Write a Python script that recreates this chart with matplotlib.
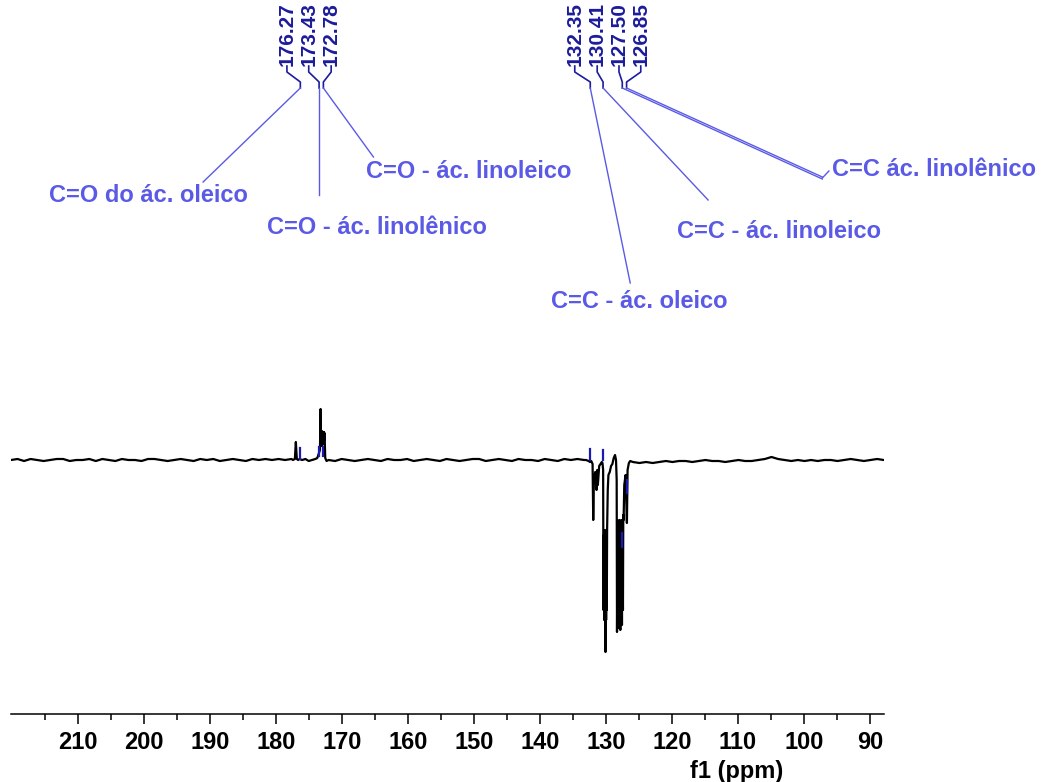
import matplotlib.pyplot as plt
import numpy as np

# baseline noise (px-like intensity units)
seg_a = [0,1,-1,1,0,-1,0,1,1,-1,0,0,1,-1,1,0,-1,1,0,0,-1,1,1,0,-1,0,1,0,-1,1,0,1,-1,0,1,0,-1,1,0,1,0,1,0,1]
seg_b = [0,-1,1,0,-1,0,1,0,-1,1,0,0,1,-1,0,1,0,-1,1,0,-1,0,1,1,-1,0,1,0,-1,1,0,0,-1,1,0,-1,1,0,1,0]
seg_c = [-2,-3,-2,-3,-2,-1,-2,-1,-1,-2,-1,0,-1,-1,-2,-1,0,-1,-1,0,1,3,1,0,-1,0,-1,0,-1,0,0,-1,0,1,0,-1,0,1,0]

# carbonyl region
co_ppm = [177.4,177.1,176.95,176.8,176.6,176.4,176.0,175.5,175.0,174.5,174.0,173.7,173.5,173.3,
          173.2,173.15,173.1,173.05,173.0,172.95,172.9,172.85,172.8,172.75,172.7,172.65,172.6,172.5,172.3]
co_int = [0,1,18,1,0,1,0,1,-1,0,1,2,6,10,51,20,28,14,29,15,28,16,28,18,28,20,27,2,-1]

# olefinic region (negative)
cc_ppm = [133.0,132.6,132.4,132.2,132.0,131.9,131.8,131.6,131.4,131.3,131.2,131.0,130.8,130.6,130.5,
          130.4,130.35,130.3,130.25,130.2,130.15,130.1,130.05,130.0,129.95,129.9,129.85,129.8,129.7,129.6,129.4,129.2,129.0,128.8,128.6,
          128.45,128.35,128.3,128.2,128.1,128.0,127.95,127.9,127.8,127.75,127.7,127.6,127.55,127.5,127.4,127.35,127.3,127.2,127.0,126.8,
          126.7,126.5,126.3]
cc_int = [0,-1,-2,-1,-4,-60,-20,-12,-30,-10,-25,-6,-4,-2,-3,
          -10,-150,-75,-160,-80,-155,-70,-192,-90,-160,-75,-150,-70,-30,-15,-12,-6,-4,2,5,
          0,-20,-172,-60,-168,-65,-165,-60,-170,-70,-160,-60,-165,-75,-150,-55,-60,-25,-15,-63,
          -10,-3,-1]

ppm = np.concatenate([np.linspace(220.1, 177.6, len(seg_a)), co_ppm,
                      np.linspace(172.0, 133.3, len(seg_b)), cc_ppm,
                      np.linspace(125.9, 87.9, len(seg_c))])
inten = np.concatenate([seg_a, co_int, seg_b, cc_int, seg_c])

# peak picking
peaks = [176.27, 173.43, 172.78, 132.35, 130.41, 127.50, 126.85]
peak_labels = ['176.27', '173.43', '172.78', '132.35', '130.41', '127.50', '126.85']
label_x = [178.3, 175.0, 171.6, 134.7, 131.3, 128.0, 124.7]
mark_lo = [1, 4, 4, 0, 0, -87, -33]
mark_hi = [12, 13, 13, 11, 10, -73, -20]

# assignments
assign = ['C=O do ác. oleico', 'C=O - ác. linolênico', 'C=O - ác. linoleico',
          'C=C - ác. oleico', 'C=C - ác. linoleico', 'C=C ác. linolênico']
assign_xy = [(214.35, 265), (181.3, 233), (166.3, 289), (138.3, 158), (119.2, 229), (95.7, 290)]
leaders = [(176.27, 191.0, 278), (173.43, 173.43, 265), (172.78, 165.2, 303),
           (132.35, 126.3, 177), (130.41, 114.5, 260), (127.50, 97.2, 281), (126.85, 97.2, 283)]

navy = '#1c1c9c'
lblue = '#5a5ae6'
plt.rcParams['font.family'] = 'Liberation Sans'

fig = plt.figure(figsize=(10.43, 7.82), dpi=100)
ax = fig.add_axes([11/1043, 68/782, 872.7/1043, 714/782])
ax.plot(ppm, inten, color='black', lw=1.6)
for p, lo, hi in zip(peaks, mark_lo, mark_hi):
    ax.plot([p, p], [lo, hi], color='#1a1ab0', lw=1.6)

for p, lab, lx in zip(peaks, peak_labels, label_x):
    ax.text(lx, 394, lab, rotation=90, ha='center', va='bottom', color=navy,
            fontsize=15, fontweight='bold')
    ax.plot([lx, lx, p, p], [394, 388, 378, 372], color=navy, lw=1.2)

for (p, x1, y1) in leaders:
    ax.plot([p, x1], [372, y1], color=lblue, lw=1.0)
ax.plot([97.2, 96.2], [282, 289], color=lblue, lw=1.0)

for t, (x, y) in zip(assign, assign_xy):
    ax.text(x, y, t, ha='left', va='center', color=lblue, fontsize=17, fontweight='bold')

ax.set_xlim(220.1, 87.9)
ax.set_ylim(-254, 460)
ax.set_xticks(np.arange(90, 211, 10))
ax.set_xticks(np.arange(95, 216, 10), minor=True)
ax.set_xticklabels([str(v) for v in range(90, 211, 10)], fontsize=17, fontweight='bold')
ax.tick_params(axis='x', which='major', length=7.5, width=1.1, pad=5)
ax.tick_params(axis='x', which='minor', length=4, width=1.1)
ax.set_yticks([])
for s in ['left', 'right', 'top']:
    ax.spines[s].set_visible(False)
ax.spines['bottom'].set_linewidth(1.1)
ax.set_xlabel('f1 (ppm)', fontsize=17, fontweight='bold')
ax.xaxis.set_label_coords(0.832, -0.08)
ax.xaxis.label.set_va('center')
plt.savefig('out.png', dpi=100)
